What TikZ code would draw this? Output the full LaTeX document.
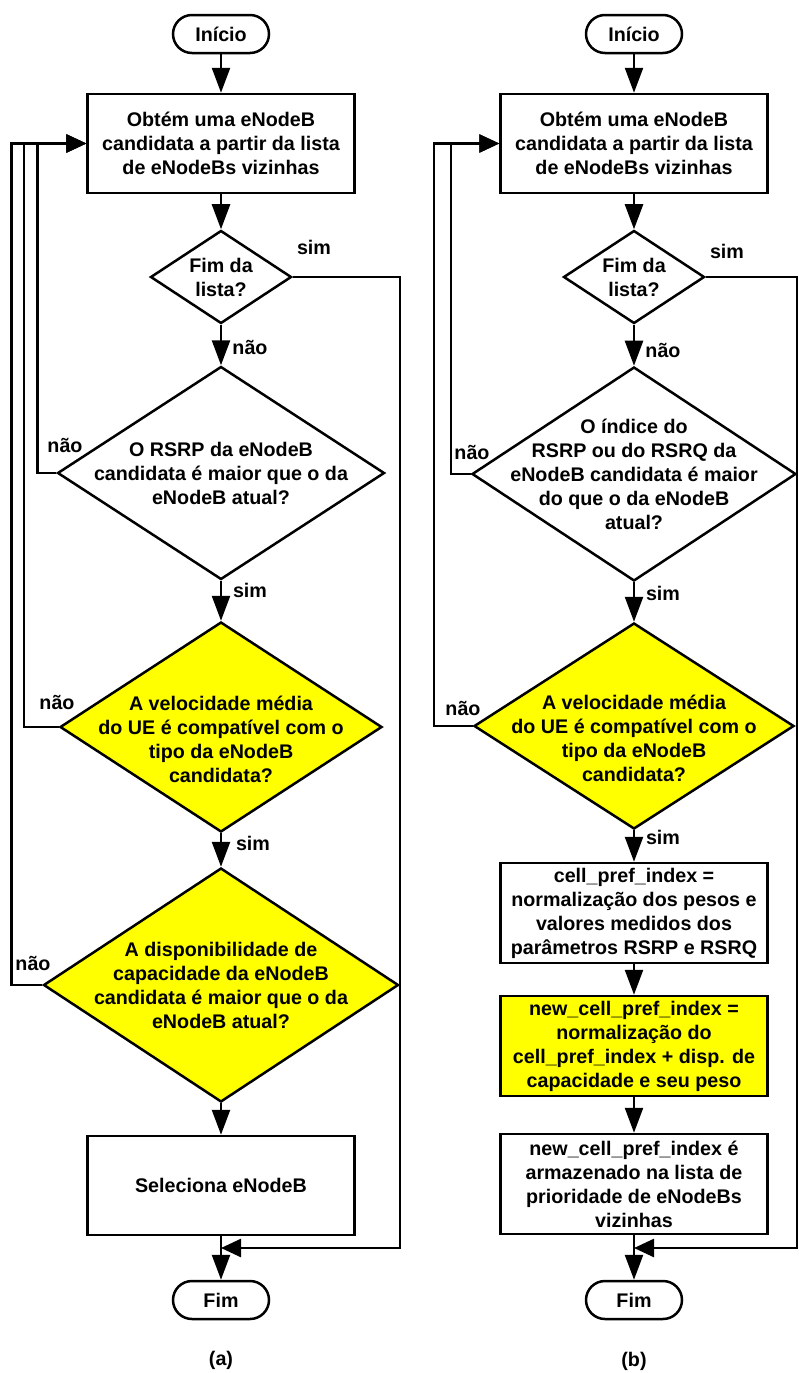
\documentclass[tikz,border=0pt]{standalone}
\usepackage{fontspec}
\setmainfont{Liberation Sans}
\usetikzlibrary{shapes.geometric,arrows.meta,calc}
\definecolor{amarelo}{RGB}{255,255,0}
\tikzset{
  seta/.style={line width=2.5pt,-{Triangle[length=25pt,width=18pt]}},
  setalado/.style={line width=2.5pt,-{Triangle[length=20pt,width=18pt]}},
  terminal/.style={draw,line width=2.5pt,rounded corners=19pt,minimum width=96pt,minimum height=38pt,inner sep=0pt},
  caixa/.style={draw,line width=2.5pt,minimum width=267pt,minimum height=99pt,align=center,inner sep=0pt},
  losango/.style={draw,line width=2.5pt,diamond,inner sep=0pt,fill=white},
  rot/.style={inner sep=0pt},
  every label/.style={align=center,inner sep=0pt},
}
\begin{document}
\begin{tikzpicture}[x=1pt,y=-1pt,font=\fontsize{19.7}{24}\selectfont\bfseries]
\useasboundingbox (0,0) rectangle (799,1373);
% (a)
\node[terminal] (aini) at (221,34) {Início};
\node[caixa] (aobt) at (221,143.5) {Obtém uma eNodeB\\candidata a partir da lista\\de eNodeBs vizinhas};
\node[losango,minimum width=141,minimum height=93,label={center:{Fim da\\lista?}}] (afimlista) at (221,277) {};
\node[losango,minimum width=327,minimum height=213,label={center:{O RSRP da eNodeB\\candidata é maior que o da\\eNodeB atual?}}] (arsrp) at (221,473) {};
\node[losango,fill=amarelo,minimum width=322,minimum height=210,label={[yshift=-12pt]center:{A velocidade média\\do UE é compatível com o\\tipo da eNodeB\\candidata?}}] (avel) at (221,727) {};
\node[losango,fill=amarelo,minimum width=355,minimum height=234,label={center:{A disponibilidade de\\capacidade da eNodeB\\candidata é maior que o da\\eNodeB atual?}}] (adisp) at (221,985) {};
\node[caixa] (asel) at (221,1185.5) {Seleciona eNodeB};
\node[terminal] (afim) at (221,1300) {Fim};
\coordinate (acanto) at (400,1248);

\draw[seta] (aini) -- (aobt);
\draw[seta] (aobt) -- (afimlista);
\draw[seta] (afimlista) -- (arsrp);
\draw[seta] (arsrp) -- (avel);
\draw[seta] (avel) -- (adisp);
\draw[seta] (adisp) -- (asel);
\draw[seta] (asel) -- (afim);
\draw[setalado] (afimlista.east) -| (acanto) -- (acanto -| afim.north);
\draw[setalado] (arsrp.west) -- ++(-19,0) |- (aobt.west);
\draw[setalado] (avel.west) -- ++(-35,0) |- (aobt.west);
\draw[setalado] (adisp.west) -- ++(-31,0) |- (aobt.west);

\node[rot] (asim1) at (314,247) {sim};
\node[rot] (anao1) at (250,347) {não};
\node[rot] (anao2) at (65,445) {não};
\node[rot] (asim2) at (250,590) {sim};
\node[rot] (anao3) at (57,702) {não};
\node[rot] (asim3) at (253,843) {sim};
\node[rot] (anao4) at (33,963) {não};
\node[rot] (alegenda) at (221,1360) {(a)};

% (b)
\node[terminal] (bini) at (634,34) {Início};
\node[caixa] (bobt) at (634,143.5) {Obtém uma eNodeB\\candidata a partir da lista\\de eNodeBs vizinhas};
\node[losango,minimum width=141,minimum height=93,label={center:{Fim da\\lista?}}] (bfimlista) at (634,277) {};
\node[losango,minimum width=324,minimum height=214,label={center:{O índice do\\RSRP ou do RSRQ da\\eNodeB candidata é maior\\do que o da eNodeB\\atual?}}] (bind) at (634,474) {};
\node[losango,fill=amarelo,minimum width=320,minimum height=206,label={[yshift=-12pt]center:{A velocidade média\\do UE é compatível com o\\tipo da eNodeB\\candidata?}}] (bvel) at (634,726) {};
\node[caixa,minimum height=100] (bcell) at (634,913) {cell\_pref\_index =\\normalização dos pesos e\\valores medidos dos\\parâmetros RSRP e RSRQ};
\node[caixa,fill=amarelo,minimum height=100] (bnew) at (634,1046) {new\_cell\_pref\_index =\\normalização do\\cell\_pref\_index + disp. de\\capacidade e seu peso};
\node[caixa,minimum height=100] (barm) at (634,1184) {new\_cell\_pref\_index é\\armazenado na lista de\\prioridade de eNodeBs\\vizinhas};
\node[terminal] (bfim) at (634,1300) {Fim};
\coordinate (bcanto) at (797,1248);

\draw[seta] (bini) -- (bobt);
\draw[seta] (bobt) -- (bfimlista);
\draw[seta] (bfimlista) -- (bind);
\draw[seta] (bind) -- (bvel);
\draw[seta] (bvel) -- (bcell);
\draw[seta] (bcell) -- (bnew);
\draw[seta] (bnew) -- (barm);
\draw[seta] (barm) -- (bfim);
\draw[setalado] (bfimlista.east) -| (bcanto) -- (bcanto -| bfim.north);
\draw[setalado] (bind.west) -- ++(-20,0) |- (bobt.west);
\draw[setalado] (bvel.west) -- ++(-39,0) |- (bobt.west);

\node[rot] (bsim1) at (727,251) {sim};
\node[rot] (bnao1) at (663,350) {não};
\node[rot] (bnao2) at (472,452) {não};
\node[rot] (bsim2) at (663,593) {sim};
\node[rot] (bnao3) at (463,708) {não};
\node[rot] (bsim3) at (663,837) {sim};
\node[rot] (blegenda) at (634,1361) {(b)};
\end{tikzpicture}
\end{document}
